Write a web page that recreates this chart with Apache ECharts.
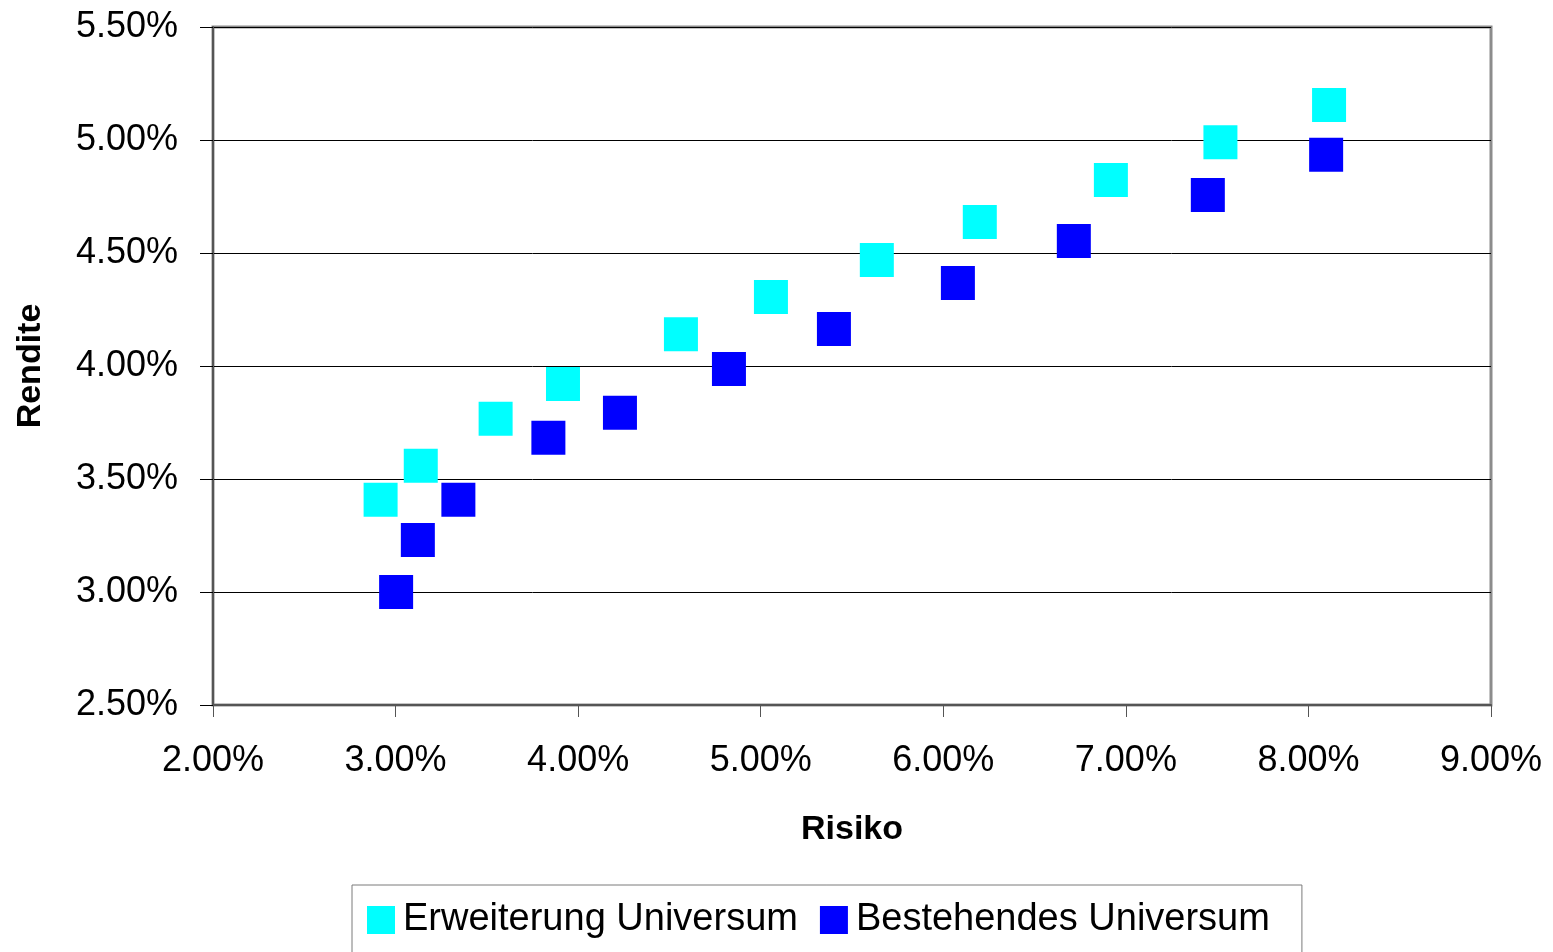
<!DOCTYPE html>
<html>
<head>
<meta charset="utf-8">
<script src="https://cdn.jsdelivr.net/npm/echarts@6/dist/echarts.min.js"></script>
<style>
  html, body { margin: 0; padding: 0; background: #fff; }
  #chart { width: 1553px; height: 952px; }
</style>
</head>
<body>
<div id="chart"></div>
<script>
// Risk / return pairs, both in percent
const seriesNames = ['Erweiterung Universum', 'Bestehendes Universum'];

const erweiterungRisiko  = [2.918, 3.138, 3.548, 3.917, 4.563, 5.056, 5.636, 6.200, 6.918, 7.518, 8.113];
const erweiterungRendite = [3.408, 3.559, 3.767, 3.920, 4.140, 4.305, 4.469, 4.637, 4.823, 4.990, 5.155];

const bestehendRisiko  = [3.003, 3.122, 3.344, 3.837, 4.229, 4.826, 5.401, 6.080, 6.715, 7.449, 8.097];
const bestehendRendite = [3.000, 3.230, 3.408, 3.683, 3.793, 3.987, 4.164, 4.367, 4.553, 4.757, 4.935];

const xAxisRange = { min: 2, max: 9, step: 1 };
const yAxisRange = { min: 2.5, max: 5.5, step: 0.5 };

const pairs = (xs, ys) => xs.map((x, i) => [x, ys[i]]);
const pct = v => v.toFixed(2) + '%';

const font = 'Liberation Sans, Arial, Helvetica, sans-serif';

const chart = echarts.init(document.getElementById('chart'), null, { renderer: 'canvas' });

chart.setOption({
  animation: false,
  backgroundColor: '#ffffff',
  textStyle: { fontFamily: font, color: '#000' },
  grid: {
    left: 213, right: 62, top: 27, bottom: 247,
    show: true,
    borderColor: '#8c8c8c',
    borderWidth: 3,
    backgroundColor: 'transparent'
  },
  legend: {
    data: seriesNames,
    left: 352,
    top: 885,
    orient: 'horizontal',
    icon: 'rect',
    itemWidth: 28,
    itemHeight: 28,
    itemGap: 22,
    padding: [16, 32, 40, 15],
    borderColor: '#7a7a7a',
    borderWidth: 1,
    backgroundColor: '#fff',
    textStyle: { fontFamily: font, fontSize: 38, color: '#000', padding: [0, 0, 0, 3] }
  },
  xAxis: {
    type: 'value',
    min: xAxisRange.min, max: xAxisRange.max, interval: xAxisRange.step,
    name: 'Risiko',
    nameLocation: 'middle',
    nameGap: 108,
    nameTextStyle: { fontFamily: font, fontSize: 34, fontWeight: 'bold', color: '#000' },
    axisLine: { show: true, onZero: false, lineStyle: { color: '#555', width: 2 } },
    axisTick: { show: true, length: 12, lineStyle: { color: '#555', width: 1 } },
    axisLabel: { formatter: pct, fontSize: 36, color: '#000', margin: 38, fontFamily: font },
    splitLine: { show: false }
  },
  yAxis: {
    type: 'value',
    min: yAxisRange.min, max: yAxisRange.max, interval: yAxisRange.step,
    name: 'Rendite',
    nameLocation: 'middle',
    nameRotate: 90,
    nameGap: 165,
    nameTextStyle: { fontFamily: font, fontSize: 34, fontWeight: 'bold', color: '#000' },
    axisLine: { show: true, onZero: false, lineStyle: { color: '#555', width: 2 } },
    axisTick: { show: true, length: 13, lineStyle: { color: '#000', width: 1 } },
    axisLabel: { formatter: pct, fontSize: 36, color: '#000', margin: 35, fontFamily: font },
    splitLine: { show: true, lineStyle: { color: '#000', width: 1 } }
  },
  series: [
    {
      name: seriesNames[0],
      type: 'scatter',
      symbol: 'rect',
      symbolSize: 34,
      itemStyle: { color: '#00ffff', opacity: 1 },
      data: pairs(erweiterungRisiko, erweiterungRendite)
    },
    {
      name: seriesNames[1],
      type: 'scatter',
      symbol: 'rect',
      symbolSize: 34,
      itemStyle: { color: '#0000ff', opacity: 1 },
      data: pairs(bestehendRisiko, bestehendRendite)
    }
  ]
});
</script>
</body>
</html>
